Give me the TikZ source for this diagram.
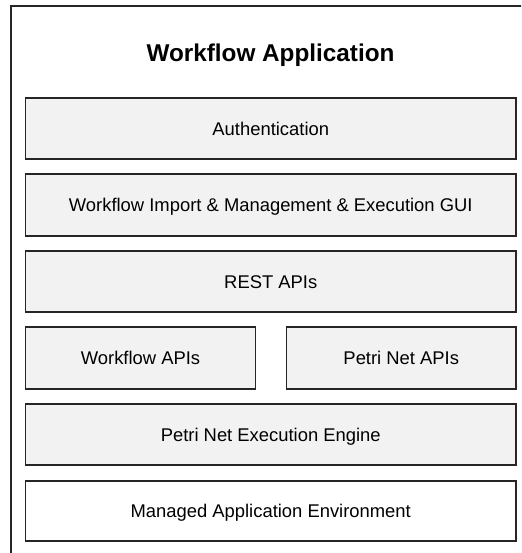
\documentclass[tikz,border=0pt]{standalone}
\usepackage{fontspec}
\setmainfont{Liberation Sans}
\begin{document}
\begin{tikzpicture}[x=1pt,y=-1pt,
  layer/.style={draw=black!85,line width=1.3pt,fill=black!5,inner sep=0pt,text height=13.2pt,text depth=0pt,font=\fontsize{18.4}{22}\selectfont},
  title/.style={font=\fontsize{24.3}{28}\selectfont\bfseries,inner sep=0pt,text height=17.4pt,text depth=0pt}]
\useasboundingbox (0,0) rectangle (521,553);
\clip (0,0) rectangle (521,553);
\draw[line width=1.3pt,draw=black!85] (11,6) rectangle (540,580);
\node[title] (t) at (270.5,52.5) {Workflow Application};
\node[layer,minimum width=490.5pt,minimum height=61pt] (auth) at (270.75,128.5) {Authentication};
\node[layer,minimum width=490.5pt,minimum height=62pt] (gui) at (270.75,205) {Workflow Import \& Management \& Execution GUI};
\node[layer,minimum width=490.5pt,minimum height=61pt] (rest) at (270.75,281.5) {REST APIs};
\node[layer,minimum width=230pt,minimum height=62pt] (wf) at (140.5,358) {Workflow APIs};
\node[layer,minimum width=229.5pt,minimum height=62pt] (pn) at (401.25,358) {Petri Net APIs};
\node[layer,minimum width=490.5pt,minimum height=61pt] (eng) at (270.75,434.5) {Petri Net Execution Engine};
\node[layer,fill=white,minimum width=490.5pt,minimum height=60pt] (env) at (270.75,511) {Managed Application Environment};
\end{tikzpicture}
\end{document}
